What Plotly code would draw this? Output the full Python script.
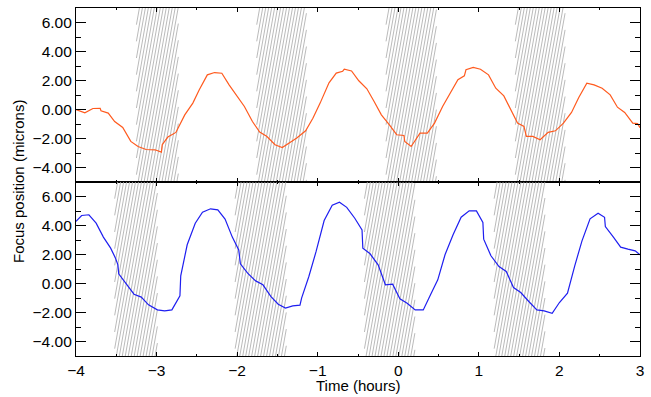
import plotly.graph_objects as go
from plotly.subplots import make_subplots

# ---------------- data ----------------
top_t = [-4.00, -3.89, -3.79, -3.70, -3.69, -3.60, -3.52, -3.42, -3.32, -3.23,
         -3.13, -3.02, -2.94, -2.93, -2.86, -2.76, -2.65, -2.55, -2.47, -2.37,
         -2.28, -2.19, -2.10, -2.00, -1.91, -1.81, -1.72, -1.63, -1.53, -1.44,
         -1.36, -1.26, -1.15, -1.06, -0.97, -0.86, -0.77, -0.69, -0.67, -0.58,
         -0.49, -0.39, -0.30, -0.21, -0.11, -0.02, 0.07, 0.08, 0.16, 0.27,
         0.36, 0.45, 0.55, 0.64, 0.74, 0.82, 0.84, 0.93, 1.02, 1.12,
         1.21, 1.31, 1.40, 1.48, 1.56, 1.59, 1.67, 1.76, 1.86, 1.95,
         2.05, 2.15, 2.24, 2.34, 2.43, 2.53, 2.63, 2.72, 2.81, 2.91,
         2.97, 3.00]
top_focus = [0.00, -0.23, 0.07, 0.08, -0.09, -0.25, -0.83, -1.24, -2.20, -2.55,
             -2.76, -2.78, -2.94, -2.43, -1.90, -1.58, -0.37, 0.44, 1.36, 2.39,
             2.55, 2.50, 1.70, 0.90, 0.21, -0.83, -1.56, -1.86, -2.43, -2.62,
             -2.32, -1.97, -1.47, -0.60, 0.44, 1.84, 2.51, 2.64, 2.78, 2.66,
             1.98, 1.43, 0.55, -0.37, -1.06, -1.74, -1.79, -2.20, -2.55, -1.63,
             -1.63, -0.94, 0.21, 1.06, 2.05, 2.32, 2.74, 2.90, 2.78, 2.39,
             1.47, 0.94, -0.02, -0.94, -1.17, -1.86, -1.86, -2.09, -1.58, -1.47,
             -0.94, -0.20, 0.83, 1.82, 1.70, 1.47, 1.01, 0.16, -0.20, -0.94,
             -0.97, -1.25]

bot_t = [-4.00, -3.93, -3.84, -3.75, -3.66, -3.57, -3.51, -3.48, -3.47, -3.38,
         -3.28, -3.19, -3.10, -2.99, -2.90, -2.81, -2.71, -2.70, -2.62, -2.52,
         -2.43, -2.33, -2.24, -2.15, -2.06, -1.98, -1.96, -1.87, -1.77, -1.68,
         -1.58, -1.49, -1.40, -1.31, -1.22, -1.20, -1.11, -1.02, -0.92, -0.82,
         -0.73, -0.64, -0.54, -0.45, -0.44, -0.35, -0.25, -0.16, -0.07, 0.02,
         0.11, 0.21, 0.31, 0.40, 0.49, 0.58, 0.68, 0.78, 0.88, 0.97,
         1.05, 1.06, 1.15, 1.25, 1.34, 1.43, 1.52, 1.62, 1.72, 1.81,
         1.91, 2.00, 2.10, 2.19, 2.28, 2.38, 2.48, 2.56, 2.57, 2.67,
         2.76, 2.85, 2.94, 3.00]
bot_focus = [4.28, 4.69, 4.74, 4.16, 3.20, 2.44, 1.75, 1.29, 0.67, 0.02,
             -0.74, -0.94, -1.47, -1.82, -1.89, -1.82, -0.85, 0.53, 2.67, 4.16,
             4.92, 5.15, 5.08, 4.44, 3.20, 2.32, 1.36, 0.71, 0.18, -0.09,
             -0.90, -1.43, -1.70, -1.54, -1.49, -1.01, 0.48, 2.21, 4.34, 5.40,
             5.61, 5.25, 4.50, 3.70, 2.44, 2.05, 1.29, -0.09, -0.05, -1.06,
             -1.36, -1.82, -1.82, -0.78, 0.25, 1.98, 3.36, 4.57, 5.01, 5.01,
             4.21, 3.06, 1.91, 1.17, 0.83, -0.28, -0.62, -1.24, -1.82, -1.89,
             -2.05, -1.31, -0.67, 1.22, 2.94, 4.46, 4.85, 4.57, 3.93, 3.20,
             2.51, 2.37, 2.25, 1.98]

# shaded (hatched) intervals in hours
top_start = [-3.25, -1.757, -0.152, 1.453]
top_end = [-2.73, -1.14, 0.473, 2.07]
bot_start = [-3.52, -2.025, -0.42, 1.19]
bot_end = [-2.99, -1.39, 0.206, 1.82]

x_ticks = [-4, -3, -2, -1, 0, 1, 2, 3]
y_ticks = [-4, -2, 0, 2, 4, 6]

XR = [-4, 3]
YR = [-5, 7]

# ---------------- figure ----------------
W, H = 651, 397
ML, MR, MT, MB = 76, 7, 8, 41
plot_w = W - ML - MR
panel_h = (H - MT - MB) / 2.0
px_per_x = plot_w / (XR[1] - XR[0])
px_per_y = panel_h / (YR[1] - YR[0])

# hatch geometry (pixel slant and spacing converted to data units)
slant_px = 0.18            # horizontal px per vertical px
spacing_px = 3.0
s = slant_px * px_per_y / px_per_x   # data dx per data dy
dx = spacing_px / px_per_x


def hatch_xy(starts, ends):
    xs, ys = [], []
    y0, y1 = YR
    for xl, xr in zip(starts, ends):
        x0 = xl - s * (y1 - y0)
        while x0 <= xr:
            ya = max(y0, y0 + (xl - x0) / s)
            yb = min(y1, y0 + (xr - x0) / s)
            if yb > ya:
                xs += [x0 + s * (ya - y0), x0 + s * (yb - y0), None]
                ys += [ya, yb, None]
            x0 += dx
    return xs, ys


fig = make_subplots(rows=2, cols=1, shared_xaxes=True, vertical_spacing=0)

hx, hy = hatch_xy(top_start, top_end)
fig.add_trace(go.Scatter(x=hx, y=hy, mode="lines",
                         line=dict(color="#a8a8a8", width=0.8),
                         hoverinfo="skip", showlegend=False), row=1, col=1)
hx, hy = hatch_xy(bot_start, bot_end)
fig.add_trace(go.Scatter(x=hx, y=hy, mode="lines",
                         line=dict(color="#a8a8a8", width=0.8),
                         hoverinfo="skip", showlegend=False), row=2, col=1)

fig.add_trace(go.Scatter(x=top_t, y=top_focus, mode="lines",
                         line=dict(color="#ff5a1e", width=1.2),
                         showlegend=False), row=1, col=1)
fig.add_trace(go.Scatter(x=bot_t, y=bot_focus, mode="lines",
                         line=dict(color="#1e1ef0", width=1.2),
                         showlegend=False), row=2, col=1)

tick_font = dict(family="Liberation Sans, Arial, sans-serif", size=15.5, color="black")
title_font = dict(family="Liberation Sans, Arial, sans-serif", size=15, color="black")

xax = dict(range=XR, tickvals=x_ticks, ticks="inside", ticklen=4, tickwidth=1,
           tickcolor="black",
           minor=dict(dtick=0.5, tick0=0, ticks="inside", ticklen=2,
                      tickcolor="black", tickwidth=1),
           showline=True, linecolor="black", linewidth=1.2, mirror="ticks",
           showgrid=False, zeroline=False, tickfont=tick_font)
yax = dict(range=YR, tickvals=y_ticks, tickformat=".2f", ticks="inside",
           ticklen=10, tickwidth=1, tickcolor="black",
           minor=dict(tickvals=[-5, -3, -1, 1, 3, 5, 7], ticks="inside",
                      ticklen=5, tickcolor="black", tickwidth=1),
           showline=True, linecolor="black", linewidth=1.2, mirror="ticks",
           showgrid=False, zeroline=False, tickfont=tick_font)

fig.update_xaxes(**xax)
fig.update_xaxes(showticklabels=False, row=1, col=1)
fig.update_yaxes(**yax)

fig.add_annotation(text="Focus position (microns)", xref="paper", yref="paper",
                   x=0, y=0.5, xanchor="center", yanchor="middle",
                   xshift=-58, textangle=-90, showarrow=False, font=title_font)
fig.add_annotation(text="Time (hours)", xref="paper", yref="paper",
                   x=0.5, y=0, xanchor="center", yanchor="middle",
                   yshift=-29, showarrow=False, font=title_font)

fig.update_layout(width=W, height=H,
                  margin=dict(l=ML, r=MR, t=MT, b=MB),
                  paper_bgcolor="white", plot_bgcolor="white",
                  font=tick_font, showlegend=False)

fig.write_html("out.html",
               config={"displayModeBar": False},
               post_script="document.body.style.margin='0';"
                           "document.body.style.overflow='hidden';")
